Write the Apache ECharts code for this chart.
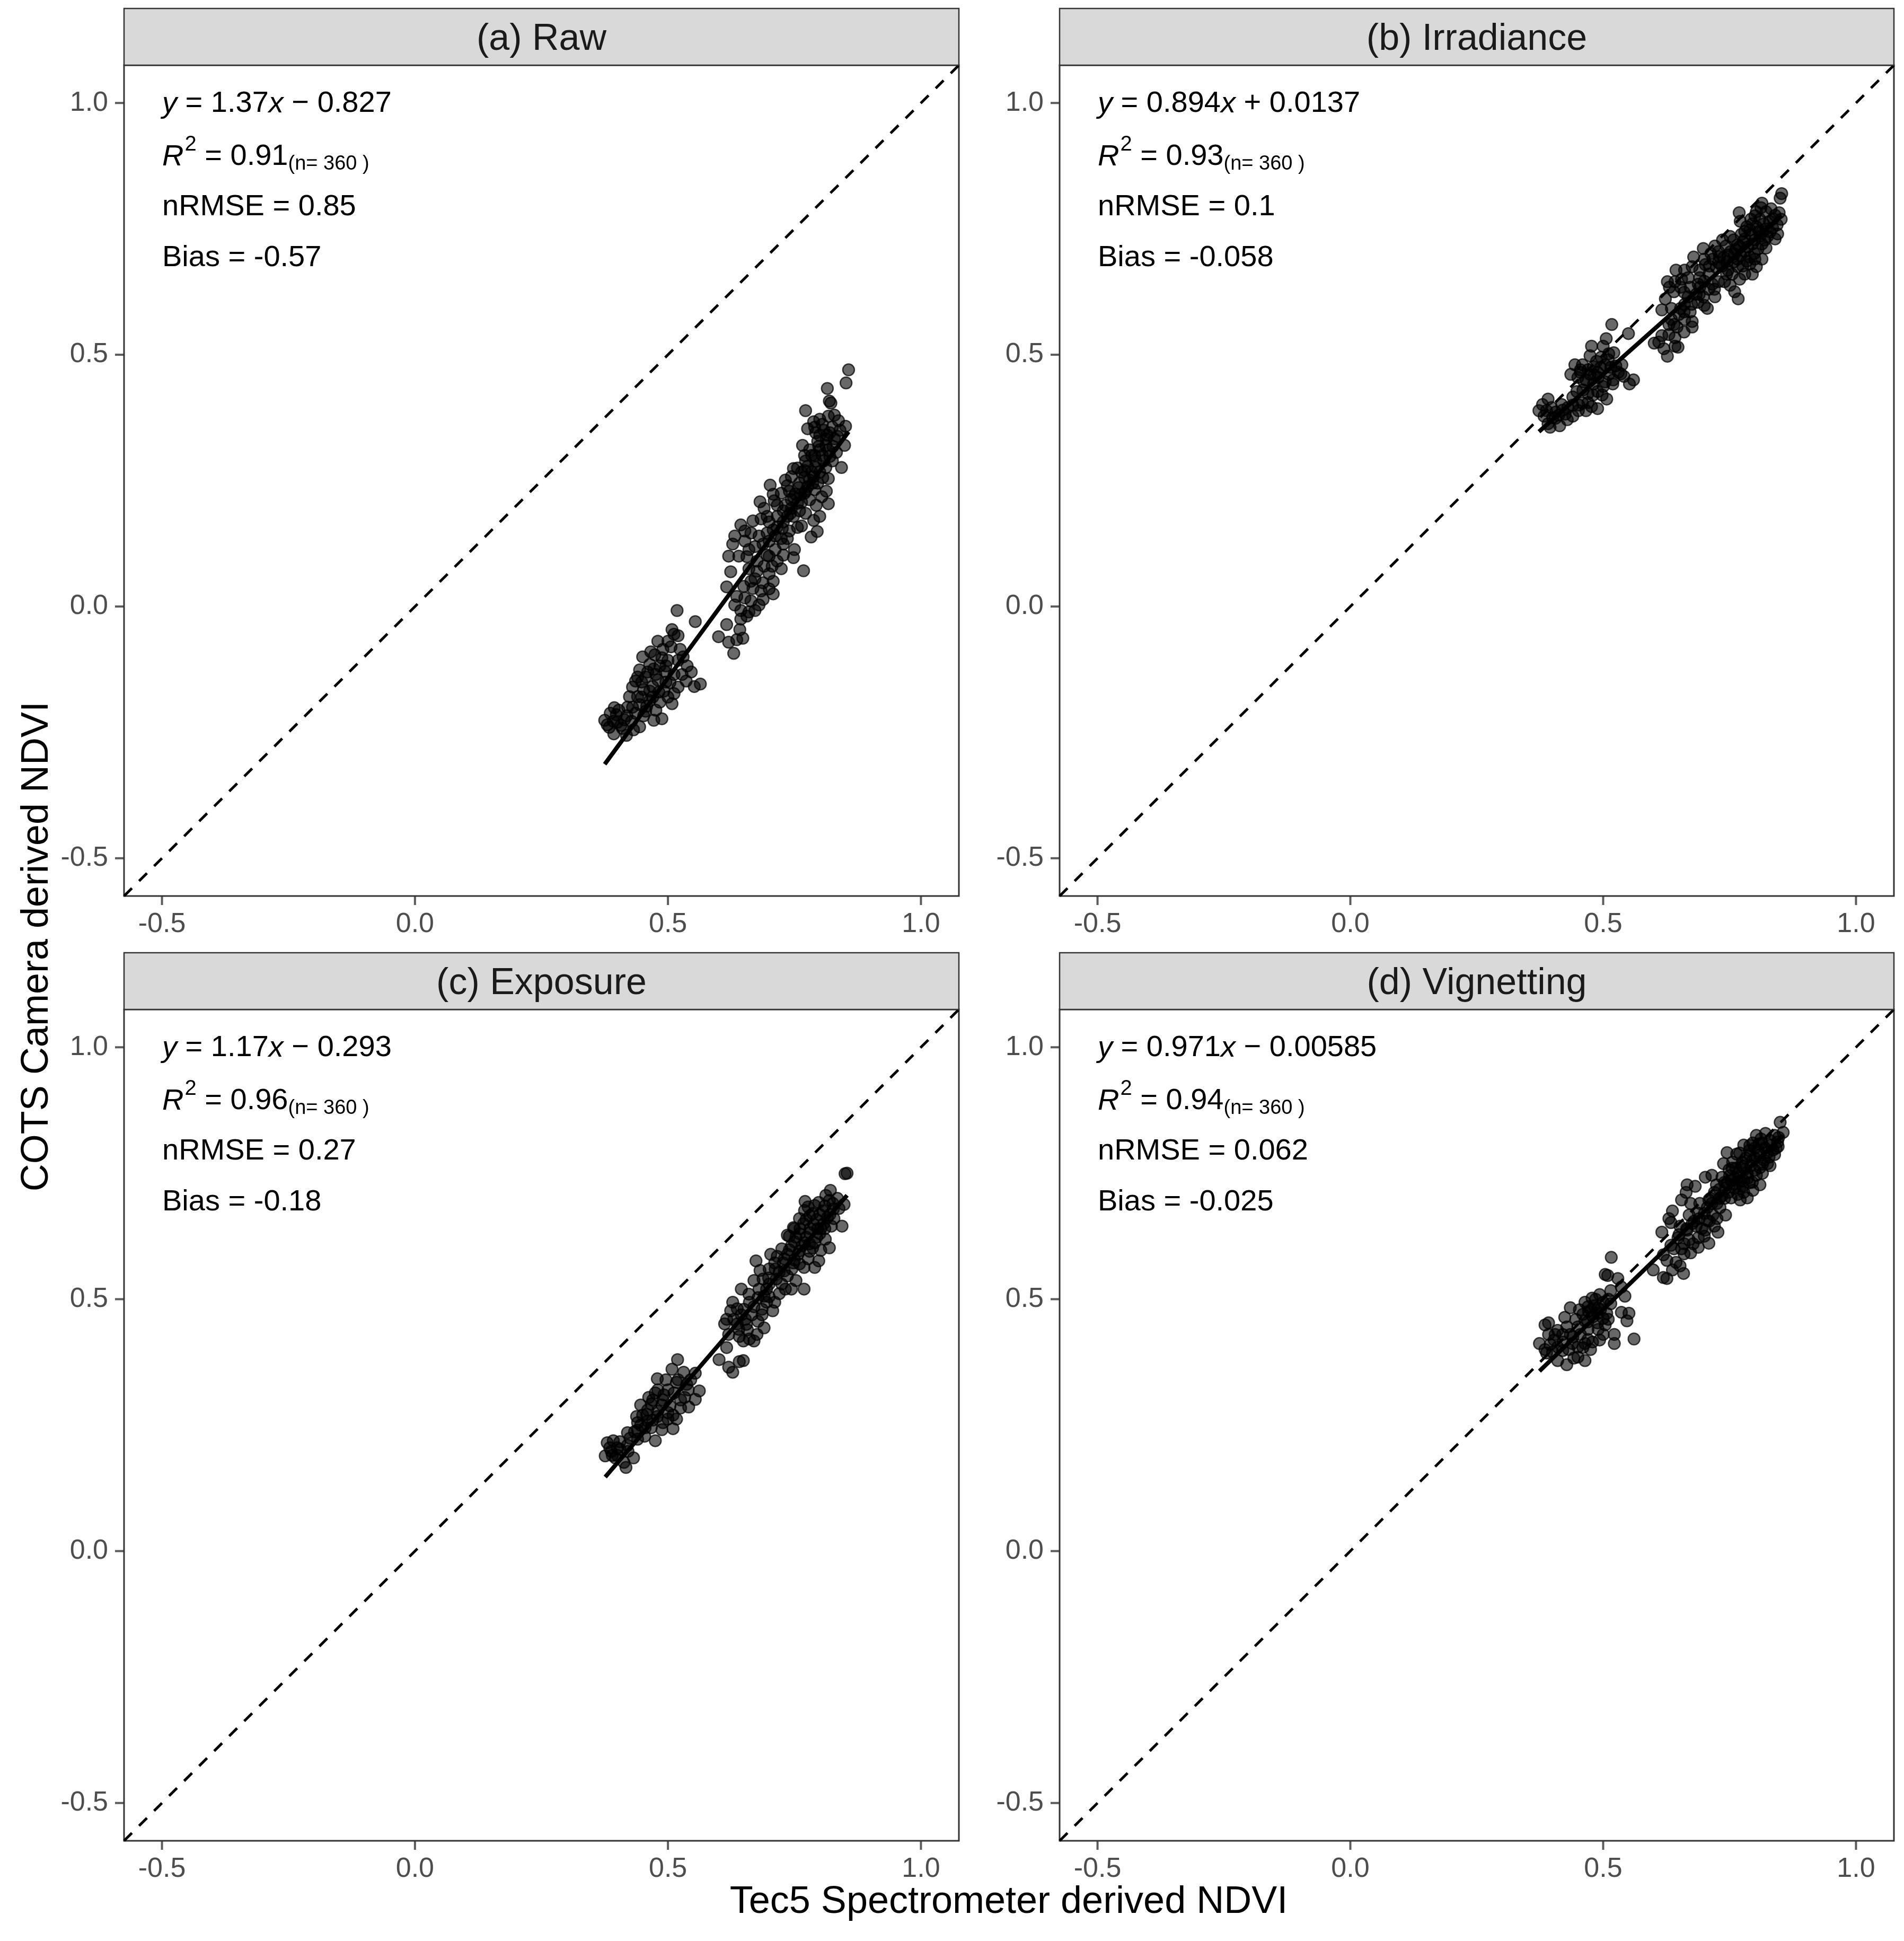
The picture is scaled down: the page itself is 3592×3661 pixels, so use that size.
<!DOCTYPE html>
<html>
<head>
<meta charset="utf-8">
<script src="https://cdn.jsdelivr.net/npm/echarts@6/dist/echarts.min.js"></script>
<style>
  html, body { margin: 0; background: #fff; }
  #chart { width: 3592px; height: 3661px; }
</style>
</head>
<body>
<div id="chart"></div>
<script>
// panel labels and fit statistics
const panelTitles = ["(a) Raw", "(b) Irradiance", "(c) Exposure", "(d) Vignetting"];
const slopes = [1.37, 0.894, 1.17, 0.971];
const intercepts = [-0.827, 0.0137, -0.293, -0.00585];
const slopeText = ["1.37", "0.894", "1.17", "0.971"];
const interceptText = ["\u2212 0.827", "+ 0.0137", "\u2212 0.293", "\u2212 0.00585"];
const r2Text = ["0.91", "0.93", "0.96", "0.94"];
const nText = ["360", "360", "360", "360"];
const nrmseText = ["0.85", "0.1", "0.27", "0.062"];
const biasText = ["-0.57", "-0.058", "-0.18", "-0.025"];
const tickValues = [-0.5, 0, 0.5, 1.0];
const axisMin = -0.575, axisMax = 1.075;

// points: [spectrometer NDVI, camera NDVI]
const rawPts = [
  [0.857,0.470],[0.852,0.444],[0.815,0.433],[0.819,0.408],[0.822,0.404],[0.772,0.389],[0.776,0.353],[0.851,0.358],[0.849,0.320],[0.843,0.276],
  [0.748,0.274],[0.770,0.300],[0.702,0.241],[0.708,0.223],[0.736,0.240],[0.682,0.208],[0.817,0.254],[0.813,0.229],[0.817,0.204],[0.793,0.201],
  [0.788,0.171],[0.795,0.149],[0.783,0.138],[0.756,0.157],[0.748,0.179],[0.732,0.201],[0.728,0.168],[0.644,0.162],[0.684,0.174],[0.700,0.168],
  [0.696,0.146],[0.664,0.146],[0.628,0.124],[0.652,0.130],[0.660,0.113],[0.672,0.119],[0.728,0.124],[0.750,0.113],[0.748,0.097],[0.728,0.102],
  [0.696,0.102],[0.688,0.124],[0.724,0.135],[0.712,0.113],[0.656,0.099],[0.706,0.080],[0.724,0.075],[0.768,0.071],[0.624,0.069],[0.616,0.039],
  [0.672,0.055],[0.664,0.050],[0.688,0.047],[0.708,0.050],[0.668,0.036],[0.684,0.031],[0.708,0.025],[0.688,0.014],[0.636,0.020],[0.632,0.003],
  [0.644,-0.008],[0.660,-0.011],[0.672,-0.008],[0.680,0.003],[0.664,0.011],[0.652,0.017],[0.644,-0.025],[0.656,-0.019],[0.616,-0.036],[0.600,-0.060],
  [0.620,-0.071],[0.642,-0.046],[0.648,-0.063],[0.636,-0.066],[0.630,-0.093],[0.518,-0.008],[0.554,-0.030],[0.508,-0.046],[0.512,-0.055],[0.480,-0.069],
  [0.500,-0.069],[0.520,-0.058],[0.524,-0.085],[0.474,-0.096],[0.488,-0.102],[0.500,-0.107],[0.464,-0.115],[0.444,-0.126],[0.472,-0.124],[0.520,-0.107],
  [0.538,-0.118],[0.494,-0.129],[0.512,-0.135],[0.528,-0.135],[0.436,-0.148],[0.456,-0.140],[0.480,-0.146],[0.504,-0.151],[0.536,-0.148],[0.564,-0.154],
  [0.552,-0.159],[0.452,-0.165],[0.470,-0.159],[0.492,-0.168],[0.512,-0.173],[0.440,-0.179],[0.464,-0.187],[0.484,-0.190],[0.508,-0.193],[0.444,-0.195],
  [0.476,-0.206],[0.488,-0.223],[0.472,-0.226],[0.452,-0.217],[0.394,-0.201],[0.386,-0.212],[0.375,-0.226],[0.392,-0.228],[0.407,-0.236],[0.419,-0.217],
  [0.428,-0.228],[0.444,-0.239],[0.393,-0.253],[0.418,-0.256],[0.410,-0.242],[0.432,-0.245],
  [0.788,0.367],[0.800,0.372],[0.817,0.378],[0.829,0.380],[0.837,0.369],[0.792,0.345],[0.808,0.350],[0.825,0.356],[0.840,0.350],[0.796,0.328],
  [0.813,0.333],[0.829,0.333],[0.780,0.311],[0.800,0.311],[0.817,0.311],[0.833,0.306],[0.772,0.289],[0.792,0.289],[0.808,0.289],[0.825,0.289],
  [0.764,0.267],[0.784,0.267],[0.800,0.267],[0.760,0.245],[0.780,0.251],[0.796,0.245],[0.752,0.223],[0.772,0.229],[0.744,0.212],[0.764,0.207],
  [0.780,0.212],[0.804,0.218],[0.736,0.179],[0.772,0.185],[0.800,0.179],[0.732,0.251],[0.740,0.229],[0.716,0.201],[0.696,0.179],[0.708,0.152],
  [0.716,0.179],[0.484,-0.118],[0.464,-0.168],[0.424,-0.179],[0.403,-0.206],
  [0.790,0.356],[0.805,0.362],[0.820,0.345],[0.835,0.338],[0.812,0.320],[0.826,0.318],[0.790,0.300],[0.805,0.300],[0.820,0.298],[0.776,0.278],
  [0.792,0.276],[0.812,0.276],[0.770,0.256],[0.788,0.258],[0.806,0.256],[0.758,0.236],[0.776,0.238],[0.790,0.232],[0.748,0.218],[0.762,0.222],
  [0.728,0.190],[0.744,0.195],[0.760,0.190],[0.716,0.158],[0.740,0.150],[0.764,0.160],[0.680,0.140],[0.700,0.130],[0.676,0.090],[0.700,0.065],
  [0.430,-0.160],[0.448,-0.150],[0.460,-0.130],[0.476,-0.135],[0.496,-0.118],[0.420,-0.200],[0.436,-0.212],[0.458,-0.198],[0.400,-0.230],[0.384,-0.240],
  [0.800,0.340],[0.815,0.340],[0.798,0.318],[0.784,0.300],[0.770,0.270],[0.786,0.245],[0.770,0.225],[0.756,0.205],[0.742,0.185],[0.726,0.155],
  [0.712,0.140],[0.736,0.135],[0.700,0.100],[0.716,0.090],[0.690,0.080],[0.660,0.075],[0.676,0.070],[0.650,0.040],[0.700,0.035],[0.640,0.100],
  [0.620,0.100],[0.632,0.140],[0.652,0.150],[0.668,0.170],[0.690,0.195],[0.710,0.210],[0.724,0.225],[0.744,0.258],[0.756,0.275],[0.766,0.320],
  [0.450,-0.100],[0.466,-0.090],[0.490,-0.085],[0.506,-0.080],[0.530,-0.100],[0.546,-0.130],[0.520,-0.160],[0.496,-0.150],[0.470,-0.180],[0.448,-0.180],
  [0.430,-0.200],[0.414,-0.225],[0.398,-0.215],[0.380,-0.235],[0.456,-0.208],[0.500,-0.180],[0.440,-0.140],[0.482,-0.170]
];

const irrPts = [
  [0.853,0.820],[0.850,0.811],[0.814,0.801],[0.769,0.782],[0.771,0.765],[0.840,0.730],[0.698,0.711],[0.679,0.694],[0.713,0.701],[0.814,0.690],
  [0.780,0.660],[0.795,0.660],[0.644,0.668],[0.627,0.645],[0.631,0.634],[0.668,0.653],[0.691,0.668],[0.702,0.679],[0.728,0.683],[0.747,0.668],
  [0.766,0.675],[0.751,0.638],[0.728,0.645],[0.709,0.630],[0.691,0.634],[0.767,0.611],[0.721,0.615],[0.706,0.592],[0.687,0.604],[0.668,0.615],
  [0.653,0.634],[0.623,0.611],[0.616,0.589],[0.635,0.592],[0.653,0.592],[0.672,0.585],[0.676,0.566],[0.661,0.570],[0.635,0.570],[0.646,0.555],
  [0.676,0.555],[0.616,0.538],[0.601,0.523],[0.642,0.534],[0.620,0.512],[0.627,0.497],[0.642,0.517],[0.648,0.515],
  [0.517,0.560],[0.550,0.542],[0.506,0.532],[0.477,0.517],[0.500,0.517],[0.521,0.504],[0.511,0.502],[0.474,0.498],[0.487,0.487],[0.496,0.495],
  [0.444,0.480],[0.459,0.480],[0.481,0.476],[0.504,0.480],[0.537,0.480],[0.436,0.461],[0.455,0.465],[0.474,0.461],[0.489,0.465],[0.511,0.461],
  [0.530,0.465],[0.541,0.457],[0.560,0.450],[0.552,0.442],[0.462,0.446],[0.481,0.442],[0.504,0.446],[0.519,0.442],[0.448,0.427],[0.470,0.423],
  [0.489,0.427],[0.507,0.412],[0.440,0.416],[0.459,0.404],[0.477,0.397],[0.489,0.393],[0.451,0.389],[0.466,0.389],[0.391,0.412],[0.380,0.401],
  [0.373,0.389],[0.388,0.389],[0.418,0.401],[0.406,0.386],[0.425,0.382],[0.440,0.378],[0.391,0.363],[0.395,0.356],[0.414,0.359],[0.429,0.371],
  [0.406,0.374],
  [0.803,0.784],[0.822,0.784],[0.840,0.777],[0.852,0.769],[0.792,0.769],[0.810,0.769],[0.829,0.765],[0.844,0.758],[0.784,0.754],[0.803,0.754],
  [0.822,0.750],[0.773,0.739],[0.792,0.739],[0.810,0.735],[0.825,0.735],[0.758,0.728],[0.777,0.724],[0.795,0.720],[0.814,0.720],[0.743,0.716],
  [0.762,0.709],[0.780,0.705],[0.799,0.701],[0.728,0.705],[0.747,0.698],[0.766,0.690],[0.784,0.686],[0.717,0.690],[0.803,0.675],[0.736,0.728],
  [0.751,0.735],[0.721,0.716],[0.676,0.675],[0.661,0.668],[0.691,0.653],[0.709,0.660],[0.672,0.634],[0.642,0.645],[0.698,0.615],[0.661,0.600],
  [0.812,0.792],[0.832,0.790],[0.848,0.782],[0.800,0.776],[0.818,0.760],[0.836,0.770],[0.790,0.748],[0.808,0.745],[0.830,0.744],[0.780,0.730],
  [0.800,0.728],[0.820,0.728],[0.766,0.718],[0.786,0.714],[0.806,0.710],[0.752,0.705],[0.772,0.697],[0.790,0.694],[0.738,0.693],[0.758,0.684],
  [0.776,0.676],[0.724,0.673],[0.744,0.660],[0.700,0.646],[0.716,0.640],[0.684,0.620],[0.660,0.624],[0.650,0.580],[0.630,0.560],[0.660,0.545],
  [0.470,0.470],[0.490,0.455],[0.500,0.437],[0.480,0.420],[0.460,0.430],[0.440,0.400],[0.420,0.390],[0.400,0.375],[0.383,0.378],[0.515,0.475],
  [0.700,0.690],[0.710,0.676],[0.735,0.676],[0.755,0.660],[0.770,0.650],[0.740,0.645],[0.720,0.630],[0.760,0.625],[0.690,0.620],[0.675,0.600],
  [0.700,0.598],[0.660,0.585],[0.640,0.560],[0.630,0.540],[0.610,0.525],[0.780,0.745],[0.795,0.760],[0.815,0.745],[0.835,0.752],[0.845,0.740],
  [0.770,0.715],[0.760,0.700],[0.745,0.685],[0.730,0.695],[0.790,0.680],[0.822,0.712],[0.800,0.690],[0.688,0.640],[0.655,0.650],[0.640,0.625],
  [0.450,0.455],[0.466,0.450],[0.482,0.460],[0.495,0.475],[0.510,0.490],[0.525,0.478],[0.498,0.420],[0.470,0.405],[0.452,0.400],[0.430,0.395],
  [0.412,0.380],[0.398,0.395],[0.455,0.470],[0.520,0.450],[0.535,0.462]
];

const expPts = [
  [0.854,0.750],[0.850,0.749],[0.821,0.716],[0.771,0.694],[0.848,0.688],[0.844,0.645],[0.736,0.627],[0.748,0.642],[0.819,0.602],[0.703,0.589],
  [0.674,0.576],[0.682,0.557],[0.711,0.572],[0.790,0.563],[0.769,0.520],[0.753,0.537],[0.670,0.537],[0.645,0.520],[0.699,0.542],[0.628,0.494],
  [0.637,0.481],[0.624,0.477],[0.711,0.494],[0.720,0.511],[0.732,0.520],[0.612,0.451],[0.616,0.460],[0.637,0.451],[0.653,0.460],[0.686,0.469],
  [0.707,0.477],[0.690,0.443],[0.678,0.456],[0.657,0.439],[0.661,0.421],[0.641,0.426],[0.670,0.417],[0.649,0.417],[0.616,0.404],[0.601,0.380],
  [0.620,0.365],[0.628,0.355],[0.641,0.376],[0.649,0.378],
  [0.519,0.380],[0.508,0.361],[0.531,0.355],[0.554,0.353],[0.479,0.342],[0.496,0.340],[0.517,0.335],[0.537,0.331],[0.562,0.318],[0.475,0.314],
  [0.492,0.310],[0.512,0.314],[0.533,0.305],[0.554,0.301],[0.541,0.286],[0.446,0.290],[0.467,0.292],[0.488,0.290],[0.504,0.288],[0.525,0.284],
  [0.438,0.267],[0.458,0.271],[0.479,0.267],[0.500,0.262],[0.517,0.262],[0.446,0.250],[0.467,0.245],[0.488,0.241],[0.510,0.243],[0.434,0.237],
  [0.454,0.228],[0.475,0.219],[0.425,0.224],[0.380,0.215],[0.392,0.219],[0.405,0.217],[0.376,0.189],[0.388,0.198],[0.405,0.202],[0.421,0.198],
  [0.432,0.185],[0.396,0.185],[0.417,0.166],[0.413,0.176],
  [0.777,0.683],[0.798,0.692],[0.819,0.696],[0.835,0.700],[0.786,0.670],[0.806,0.675],[0.827,0.679],[0.773,0.658],[0.794,0.658],[0.815,0.662],
  [0.761,0.640],[0.781,0.640],[0.802,0.640],[0.823,0.645],[0.753,0.623],[0.773,0.623],[0.794,0.623],[0.811,0.619],[0.744,0.606],[0.765,0.606],
  [0.786,0.602],[0.802,0.597],[0.736,0.589],[0.757,0.589],[0.777,0.580],[0.798,0.576],[0.728,0.572],[0.748,0.572],[0.769,0.563],[0.720,0.554],
  [0.736,0.546],[0.744,0.520],[0.695,0.520],[0.678,0.503],[0.695,0.494],[0.661,0.494],[0.666,0.469],[0.645,0.469],
  [0.790,0.686],[0.810,0.685],[0.826,0.690],[0.780,0.665],[0.800,0.668],[0.820,0.668],[0.768,0.650],[0.788,0.648],[0.808,0.650],[0.760,0.630],
  [0.780,0.632],[0.800,0.630],[0.750,0.614],[0.770,0.612],[0.790,0.612],[0.740,0.598],[0.760,0.596],[0.780,0.595],[0.730,0.580],[0.750,0.578],
  [0.712,0.560],[0.730,0.556],[0.700,0.530],[0.690,0.506],[0.670,0.485],[0.655,0.450],[0.676,0.430],[0.640,0.440],
  [0.470,0.300],[0.490,0.300],[0.460,0.280],[0.480,0.278],[0.500,0.275],[0.440,0.255],[0.460,0.258],[0.420,0.235],[0.440,0.222],[0.400,0.205],
  [0.390,0.190],
  [0.760,0.660],[0.770,0.676],[0.750,0.640],[0.740,0.625],[0.725,0.600],[0.716,0.585],[0.745,0.560],[0.760,0.570],[0.780,0.610],[0.796,0.640],
  [0.810,0.640],[0.828,0.660],[0.838,0.680],[0.812,0.706],[0.700,0.560],[0.688,0.540],[0.680,0.520],[0.660,0.510],[0.650,0.480],[0.630,0.460],
  [0.620,0.430],[0.686,0.480],[0.700,0.505],[0.714,0.540],[0.725,0.530],
  [0.450,0.270],[0.470,0.260],[0.490,0.255],[0.510,0.270],[0.525,0.300],[0.540,0.320],[0.500,0.320],[0.480,0.320],[0.462,0.305],[0.440,0.240],
  [0.420,0.210],[0.400,0.190],[0.385,0.205],[0.455,0.245],[0.520,0.340],[0.545,0.340]
];

const vigPts = [
  [0.850,0.851],[0.856,0.831],[0.847,0.821],[0.778,0.806],[0.745,0.791],[0.738,0.769],[0.825,0.769],[0.702,0.742],[0.715,0.746],[0.666,0.727],
  [0.682,0.724],[0.664,0.712],[0.655,0.697],[0.673,0.690],[0.691,0.690],[0.709,0.697],[0.810,0.727],[0.771,0.697],[0.742,0.667],[0.717,0.667],
  [0.637,0.675],[0.630,0.660],[0.634,0.652],[0.616,0.633],[0.727,0.633],[0.706,0.656],[0.688,0.671],[0.670,0.667],[0.652,0.645],[0.666,0.637],
  [0.684,0.645],[0.702,0.637],[0.720,0.645],[0.648,0.622],[0.670,0.618],[0.688,0.622],[0.709,0.611],[0.688,0.603],[0.673,0.592],[0.655,0.600],
  [0.634,0.607],[0.619,0.588],[0.626,0.577],[0.644,0.573],[0.652,0.566],[0.637,0.558],[0.659,0.551],[0.599,0.558],[0.619,0.543],[0.626,0.541],
  [0.516,0.583],[0.504,0.549],[0.509,0.547],[0.529,0.541],[0.536,0.524],[0.515,0.517],[0.543,0.506],[0.493,0.509],[0.478,0.502],[0.464,0.494],
  [0.482,0.487],[0.500,0.494],[0.515,0.491],[0.435,0.483],[0.453,0.479],[0.471,0.476],[0.489,0.472],[0.507,0.472],[0.536,0.474],[0.551,0.472],
  [0.547,0.457],[0.424,0.464],[0.446,0.460],[0.464,0.457],[0.489,0.453],[0.504,0.449],[0.385,0.449],[0.392,0.453],[0.410,0.438],[0.428,0.445],
  [0.392,0.430],[0.500,0.430],[0.522,0.430],[0.522,0.412],[0.561,0.421],[0.374,0.412],[0.403,0.419],[0.421,0.415],[0.439,0.412],[0.464,0.412],
  [0.479,0.415],[0.493,0.419],[0.385,0.400],[0.432,0.400],[0.460,0.404],[0.475,0.400],[0.388,0.393],[0.450,0.385],[0.442,0.383],[0.464,0.378],
  [0.410,0.378],[0.428,0.370],
  [0.803,0.825],[0.821,0.829],[0.839,0.825],[0.796,0.810],[0.814,0.810],[0.832,0.806],[0.846,0.803],[0.789,0.795],[0.807,0.795],[0.825,0.791],
  [0.839,0.787],[0.764,0.788],[0.782,0.780],[0.800,0.780],[0.818,0.776],[0.756,0.772],[0.774,0.765],[0.792,0.765],[0.810,0.761],[0.749,0.757],
  [0.767,0.750],[0.785,0.750],[0.803,0.746],[0.735,0.742],[0.753,0.735],[0.771,0.735],[0.789,0.731],[0.724,0.727],[0.742,0.720],[0.760,0.720],
  [0.778,0.712],[0.796,0.716],[0.720,0.712],[0.735,0.705],[0.753,0.701],[0.785,0.701],[0.706,0.682],[0.731,0.682],
  [0.812,0.818],[0.830,0.815],[0.845,0.812],[0.800,0.800],[0.820,0.800],[0.836,0.796],[0.790,0.785],[0.810,0.786],[0.828,0.782],[0.775,0.772],
  [0.795,0.775],[0.815,0.768],[0.762,0.760],[0.780,0.758],[0.800,0.756],[0.750,0.745],[0.768,0.742],[0.786,0.740],[0.740,0.732],[0.758,0.728],
  [0.776,0.724],[0.730,0.718],[0.748,0.712],[0.766,0.708],[0.712,0.700],[0.725,0.690],[0.690,0.660],[0.676,0.650],[0.700,0.625],[0.660,0.610],
  [0.470,0.485],[0.490,0.482],[0.480,0.465],[0.500,0.462],[0.470,0.440],[0.455,0.430],[0.440,0.425],[0.410,0.405],[0.400,0.395],[0.420,0.398],
  [0.760,0.740],[0.778,0.735],[0.795,0.732],[0.815,0.750],[0.830,0.765],[0.842,0.800],[0.808,0.808],[0.790,0.805],[0.770,0.790],[0.755,0.760],
  [0.745,0.730],[0.730,0.700],[0.715,0.690],[0.700,0.670],[0.680,0.655],[0.665,0.640],[0.650,0.628],[0.640,0.600],[0.660,0.590],[0.678,0.610],
  [0.695,0.640],[0.710,0.655],[0.725,0.660],[0.740,0.700],[0.770,0.720],
  [0.460,0.470],[0.476,0.478],[0.495,0.480],[0.510,0.500],[0.485,0.500],[0.470,0.455],[0.450,0.445],[0.435,0.430],[0.420,0.430],[0.405,0.430],
  [0.395,0.410],[0.450,0.405],[0.470,0.420],[0.490,0.440],[0.510,0.460]
];

const panelPts = [rawPts, irrPts, expPts, vigPts];

// panel boxes in pixels (plot area), strips sit above them
const boxes = [
  { left: 234, top: 123, width: 1575, height: 1567 },
  { left: 1999, top: 123, width: 1574, height: 1567 },
  { left: 234, top: 1904, width: 1575, height: 1568 },
  { left: 1999, top: 1904, width: 1574, height: 1568 }
];
const stripH = 107;
const tickLen = 16;
const FONT = "Liberation Sans, Arial, Helvetica, sans-serif";

const chart = echarts.init(document.getElementById("chart"), null, { renderer: "canvas" });

const grids = [], xAxes = [], yAxes = [], series = [], graphics = [];

boxes.forEach((b, i) => {
  grids.push({
    left: b.left, top: b.top, width: b.width, height: b.height,
    show: true, borderColor: "#333333", borderWidth: 3, backgroundColor: "#ffffff"
  });
  const axisCommon = {
    type: "value", gridIndex: i, min: axisMin, max: axisMax,
    splitLine: { show: false },
    axisLine: { show: false, onZero: false },
    axisTick: { show: false },
    axisLabel: {
      customValues: tickValues, color: "#4d4d4d", fontSize: 52, fontFamily: FONT,
      formatter: v => v.toFixed(1)
    }
  };
  xAxes.push(Object.assign({}, axisCommon, {
    position: "bottom",
    axisLabel: Object.assign({}, axisCommon.axisLabel, { margin: 28 })
  }));
  yAxes.push(Object.assign({}, axisCommon, {
    position: "left",
    axisLabel: Object.assign({}, axisCommon.axisLabel, { margin: 30 })
  }));

  const pts = panelPts[i];
  series.push({
    type: "scatter", xAxisIndex: i, yAxisIndex: i, data: pts,
    symbolSize: 22, silent: true,
    itemStyle: { color: "rgba(0,0,0,0.74)", borderColor: "rgba(0,0,0,0.9)", borderWidth: 2.5 }
  });

  // fitted line over the x range of the points
  const xs = pts.map(p => p[0]);
  const x0 = Math.min(...xs), x1 = Math.max(...xs);
  series.push({
    type: "line", xAxisIndex: i, yAxisIndex: i, symbol: "none", silent: true,
    data: [[x0, slopes[i] * x0 + intercepts[i]], [x1, slopes[i] * x1 + intercepts[i]]],
    lineStyle: { color: "#000000", width: 8 }
  });

  // 1:1 line
  series.push({
    type: "line", xAxisIndex: i, yAxisIndex: i, symbol: "none", silent: true,
    data: [[axisMin, axisMin], [axisMax, axisMax]],
    lineStyle: { color: "#000000", width: 5, type: [21, 19] }
  });

  // outside tick marks, placed on the axis values through the scales
  series.push({
    type: "scatter", xAxisIndex: i, yAxisIndex: i, clip: false, silent: true, z: 5,
    symbol: "rect", symbolSize: [4, tickLen], symbolOffset: [0, tickLen / 2 + 1],
    data: tickValues.map(v => [v, axisMin]),
    itemStyle: { color: "#333333" }
  });
  series.push({
    type: "scatter", xAxisIndex: i, yAxisIndex: i, clip: false, silent: true, z: 5,
    symbol: "rect", symbolSize: [tickLen, 4], symbolOffset: [-(tickLen / 2 + 1), 0],
    data: tickValues.map(v => [axisMin, v]),
    itemStyle: { color: "#333333" }
  });

  // strip
  graphics.push({
    type: "rect", shape: { x: b.left, y: b.top - stripH, width: b.width, height: stripH },
    style: { fill: "#d9d9d9", stroke: "#333333", lineWidth: 2.5 }, z: 10
  });
  graphics.push({
    type: "text", x: b.left + b.width / 2, y: b.top - stripH / 2 + 5, z: 11,
    style: {
      text: panelTitles[i], fontSize: 70, fontFamily: FONT, fill: "#1a1a1a",
      align: "center", verticalAlign: "middle", textAlign: "center", textVerticalAlign: "middle"
    }
  });

  // annotation block
  const tx = b.left + 72;
  const lines = [
    "{i|y}{n| = " + slopeText[i] + "}{i|x}{n| " + interceptText[i] + "}",
    "{i|R}{sup|2}{n| = " + r2Text[i] + "}{sub|(n= " + nText[i] + " )}",
    "{n|nRMSE = " + nrmseText[i] + "}",
    "{n|Bias = " + biasText[i] + "}"
  ];
  const offsets = [73, 173, 268, 364];
  lines.forEach((t, k) => {
    graphics.push({
      type: "text", x: tx, y: b.top + offsets[k], z: 11,
      style: {
        text: t, fontSize: 56, fontFamily: FONT, fill: "#000000",
        align: "left", verticalAlign: "middle", textAlign: "left", textVerticalAlign: "middle",
        rich: {
          n: { fontSize: 56, fontFamily: FONT, fill: "#000000" },
          i: { fontSize: 56, fontFamily: FONT, fontStyle: "italic", fill: "#000000" },
          sup: { fontSize: 40, fontFamily: FONT, fill: "#000000", padding: [0, 0, 46, 2] },
          sub: { fontSize: 38, fontFamily: FONT, fill: "#000000", padding: [28, 0, 0, 0] }
        }
      }
    });
  });
});

// axis titles
graphics.push({
  type: "text", x: 1903, y: 3588, z: 11,
  style: {
    text: "Tec5 Spectrometer derived NDVI", fontSize: 72, fontFamily: FONT, fill: "#000000",
    align: "center", verticalAlign: "middle", textAlign: "center", textVerticalAlign: "middle"
  }
});
graphics.push({
  type: "text", x: 70, y: 1785, rotation: Math.PI / 2, z: 11,
  style: {
    text: "COTS Camera derived NDVI", fontSize: 72, fontFamily: FONT, fill: "#000000",
    align: "center", verticalAlign: "middle", textAlign: "center", textVerticalAlign: "middle"
  }
});

chart.setOption({
  animation: false,
  backgroundColor: "#ffffff",
  grid: grids,
  xAxis: xAxes,
  yAxis: yAxes,
  series: series,
  graphic: { elements: graphics }
});
</script>
</body>
</html>
